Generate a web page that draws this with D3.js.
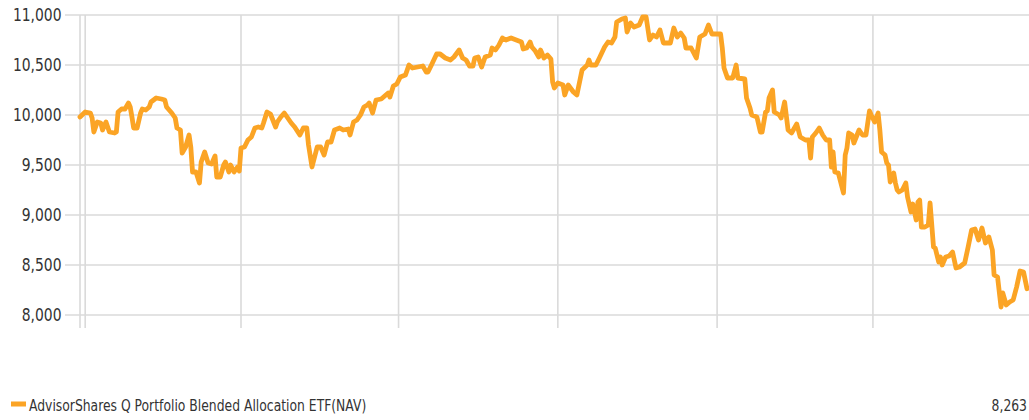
<!DOCTYPE html>
<html>
<head>
<meta charset="utf-8">
<script src="https://cdn.jsdelivr.net/npm/d3@7"></script>
<style>
  body { margin: 0; background: #fff; }
  svg text { font-family: "Liberation Sans Narrow", "Arial Narrow", "DejaVu Sans Condensed", sans-serif; fill: #333; }
</style>
</head>
<body>
<div id="chart"></div>
<script>
// NAV of a hypothetical 10,000 investment
const navSeries = [
  ["2020-12-29", 9980], ["2021-01-01", 10030], ["2021-01-04", 10020], ["2021-01-05", 9970],
  ["2021-01-06", 9830], ["2021-01-08", 9930], ["2021-01-10", 9920], ["2021-01-11", 9850],
  ["2021-01-13", 9930], ["2021-01-15", 9830], ["2021-01-18", 9820], ["2021-01-19", 9830],
  ["2021-01-20", 10030], ["2021-01-22", 10060], ["2021-01-24", 10060], ["2021-01-26", 10120],
  ["2021-01-27", 10080], ["2021-01-28", 9980], ["2021-01-29", 9870], ["2021-01-31", 9870],
  ["2021-02-02", 10020], ["2021-02-03", 10060], ["2021-02-05", 10050], ["2021-02-07", 10080],
  ["2021-02-08", 10130], ["2021-02-11", 10170], ["2021-02-14", 10160], ["2021-02-16", 10150],
  ["2021-02-17", 10080], ["2021-02-20", 10020], ["2021-02-22", 9970], ["2021-02-23", 9870],
  ["2021-02-25", 9850], ["2021-02-26", 9620], ["2021-02-28", 9680], ["2021-03-02", 9800],
  ["2021-03-03", 9680], ["2021-03-04", 9430], ["2021-03-06", 9430], ["2021-03-08", 9320],
  ["2021-03-09", 9530], ["2021-03-11", 9630], ["2021-03-13", 9520], ["2021-03-15", 9510],
  ["2021-03-17", 9590], ["2021-03-18", 9380], ["2021-03-20", 9380], ["2021-03-22", 9500],
  ["2021-03-23", 9530], ["2021-03-25", 9430], ["2021-03-26", 9500], ["2021-03-28", 9430],
  ["2021-03-30", 9480], ["2021-03-31", 9440], ["2021-04-01", 9670], ["2021-04-03", 9680],
  ["2021-04-05", 9750], ["2021-04-07", 9780], ["2021-04-09", 9870], ["2021-04-11", 9880],
  ["2021-04-13", 9870], ["2021-04-14", 9920], ["2021-04-16", 10030], ["2021-04-18", 10010],
  ["2021-04-21", 9880], ["2021-04-22", 9930], ["2021-04-24", 9980], ["2021-04-26", 10020],
  ["2021-04-28", 9970], ["2021-04-30", 9920], ["2021-05-02", 9880], ["2021-05-05", 9800],
  ["2021-05-07", 9870], ["2021-05-09", 9870], ["2021-05-10", 9700], ["2021-05-12", 9480],
  ["2021-05-15", 9680], ["2021-05-17", 9680], ["2021-05-19", 9600], ["2021-05-21", 9730],
  ["2021-05-23", 9730], ["2021-05-25", 9850], ["2021-05-28", 9870], ["2021-05-30", 9850],
  ["2021-06-02", 9860], ["2021-06-03", 9800], ["2021-06-05", 9930], ["2021-06-07", 9950],
  ["2021-06-09", 10000], ["2021-06-11", 10080], ["2021-06-13", 10100], ["2021-06-14", 10120],
  ["2021-06-16", 10020], ["2021-06-18", 10150], ["2021-06-21", 10160], ["2021-06-23", 10190],
  ["2021-06-25", 10220], ["2021-06-26", 10180], ["2021-06-28", 10290], ["2021-06-30", 10310],
  ["2021-07-02", 10380], ["2021-07-05", 10400], ["2021-07-07", 10500], ["2021-07-09", 10470],
  ["2021-07-12", 10480], ["2021-07-15", 10490], ["2021-07-17", 10430], ["2021-07-18", 10430],
  ["2021-07-20", 10500], ["2021-07-23", 10610], ["2021-07-25", 10610], ["2021-07-28", 10570],
  ["2021-07-31", 10550], ["2021-08-02", 10580], ["2021-08-05", 10650], ["2021-08-07", 10570],
  ["2021-08-09", 10550], ["2021-08-11", 10490], ["2021-08-13", 10490], ["2021-08-14", 10570],
  ["2021-08-16", 10580], ["2021-08-18", 10480], ["2021-08-20", 10580], ["2021-08-23", 10600],
  ["2021-08-24", 10670], ["2021-08-26", 10650], ["2021-08-28", 10700], ["2021-08-30", 10770],
  ["2021-09-01", 10750], ["2021-09-04", 10770], ["2021-09-07", 10750], ["2021-09-10", 10730],
  ["2021-09-11", 10660], ["2021-09-13", 10670], ["2021-09-15", 10730], ["2021-09-16", 10680],
  ["2021-09-18", 10640], ["2021-09-20", 10580], ["2021-09-21", 10650], ["2021-09-23", 10570],
  ["2021-09-25", 10600], ["2021-09-27", 10560], ["2021-09-28", 10330], ["2021-09-29", 10270],
  ["2021-10-01", 10320], ["2021-10-04", 10300], ["2021-10-05", 10200], ["2021-10-07", 10300],
  ["2021-10-10", 10230], ["2021-10-12", 10200], ["2021-10-15", 10450], ["2021-10-18", 10500],
  ["2021-10-19", 10550], ["2021-10-20", 10500], ["2021-10-23", 10500], ["2021-10-25", 10570],
  ["2021-10-28", 10680], ["2021-10-30", 10730], ["2021-11-01", 10720], ["2021-11-03", 10780],
  ["2021-11-04", 10930], ["2021-11-07", 10960], ["2021-11-09", 10970], ["2021-11-10", 10830],
  ["2021-11-12", 10920], ["2021-11-14", 10880], ["2021-11-17", 10900], ["2021-11-19", 10980],
  ["2021-11-21", 10980], ["2021-11-23", 10750], ["2021-11-25", 10800], ["2021-11-27", 10780],
  ["2021-11-29", 10850], ["2021-12-01", 10720], ["2021-12-05", 10720], ["2021-12-07", 10870],
  ["2021-12-09", 10780], ["2021-12-11", 10820], ["2021-12-13", 10770], ["2021-12-14", 10670],
  ["2021-12-17", 10670], ["2021-12-20", 10570], ["2021-12-22", 10780], ["2021-12-25", 10810],
  ["2021-12-27", 10900], ["2021-12-29", 10810], ["2021-12-31", 10810], ["2022-01-03", 10810],
  ["2022-01-04", 10670], ["2022-01-05", 10470], ["2022-01-07", 10370], ["2022-01-10", 10370],
  ["2022-01-12", 10500], ["2022-01-13", 10370], ["2022-01-17", 10360], ["2022-01-18", 10170],
  ["2022-01-20", 10070], ["2022-01-21", 10000], ["2022-01-24", 9980], ["2022-01-26", 9830],
  ["2022-01-27", 9830], ["2022-01-29", 10030], ["2022-01-30", 10040], ["2022-01-31", 10170],
  ["2022-02-02", 10250], ["2022-02-03", 10030], ["2022-02-06", 10000], ["2022-02-07", 9970],
  ["2022-02-09", 10130], ["2022-02-11", 9850], ["2022-02-13", 9820], ["2022-02-16", 9910],
  ["2022-02-18", 9780], ["2022-02-21", 9750], ["2022-02-23", 9750], ["2022-02-24", 9570],
  ["2022-02-25", 9780], ["2022-02-27", 9820], ["2022-03-01", 9870], ["2022-03-03", 9800],
  ["2022-03-05", 9750], ["2022-03-07", 9750], ["2022-03-08", 9480], ["2022-03-09", 9630],
  ["2022-03-10", 9430], ["2022-03-12", 9420], ["2022-03-15", 9220], ["2022-03-16", 9600],
  ["2022-03-17", 9670], ["2022-03-18", 9820], ["2022-03-20", 9800], ["2022-03-21", 9720],
  ["2022-03-24", 9850], ["2022-03-26", 9800], ["2022-03-28", 9800], ["2022-03-30", 10040],
  ["2022-03-31", 10000], ["2022-04-02", 9930], ["2022-04-04", 10020], ["2022-04-05", 9850],
  ["2022-04-06", 9630], ["2022-04-08", 9600], ["2022-04-09", 9520], ["2022-04-10", 9500],
  ["2022-04-11", 9330], ["2022-04-13", 9420], ["2022-04-14", 9320], ["2022-04-15", 9250],
  ["2022-04-16", 9230], ["2022-04-18", 9250], ["2022-04-20", 9320], ["2022-04-21", 9180],
  ["2022-04-23", 9030], ["2022-04-24", 9110], ["2022-04-26", 8950], ["2022-04-27", 9130],
  ["2022-04-28", 9150], ["2022-04-29", 8880], ["2022-05-01", 8880], ["2022-05-03", 8900],
  ["2022-05-04", 9120], ["2022-05-06", 8680], ["2022-05-07", 8670], ["2022-05-09", 8530],
  ["2022-05-10", 8580], ["2022-05-11", 8500], ["2022-05-13", 8580], ["2022-05-15", 8590],
  ["2022-05-17", 8630], ["2022-05-19", 8470], ["2022-05-21", 8480], ["2022-05-24", 8520],
  ["2022-05-26", 8680], ["2022-05-28", 8850], ["2022-05-30", 8860], ["2022-06-01", 8750],
  ["2022-06-03", 8870], ["2022-06-05", 8720], ["2022-06-07", 8780], ["2022-06-09", 8650],
  ["2022-06-10", 8400], ["2022-06-12", 8380], ["2022-06-14", 8080], ["2022-06-15", 8220],
  ["2022-06-17", 8100], ["2022-06-19", 8130], ["2022-06-21", 8150], ["2022-06-23", 8280],
  ["2022-06-25", 8440], ["2022-06-27", 8430], ["2022-06-29", 8263]
];

const yTicks = [8000, 8500, 9000, 9500, 10000, 10500, 11000];
const xGridDates = ["2020-12-29", "2021-01-01", "2021-04-01", "2021-07-01", "2021-10-01", "2022-01-01", "2022-04-01"];
const seriesName = "AdvisorShares Q Portfolio Blended Allocation ETF(NAV)";
const lastValue = 8263;

const parseDate = d3.timeParse("%Y-%m-%d");
const data = navSeries.map(([d, v]) => ({ date: parseDate(d), value: v }));

const width = 1029;
const height = 420;
const lineColor = "#fba425";
const narrow = 0.86; // squeeze text horizontally, no condensed font installed

const svg = d3.select("#chart")
  .append("svg")
  .attr("width", width)
  .attr("height", height);

const x = d3.scaleTime()
  .domain([parseDate("2020-12-29"), parseDate("2022-06-29")])
  .range([80, 1027]);

const y = d3.scaleLinear()
  .domain([8000, 11000])
  .range([315, 15]);

// horizontal grid + labels
const yAxis = svg.append("g")
  .attr("transform", "translate(65,0)")
  .call(d3.axisLeft(y).tickValues(yTicks).tickSize(0).tickPadding(4)
    .tickFormat(d3.format(",")));
yAxis.select(".domain").remove();
yAxis.selectAll("text")
  .style("font-size", "18px")
  .attr("fill", "#333")
  .attr("transform", `scale(${narrow},1)`);

svg.append("g")
  .selectAll("line")
  .data(yTicks)
  .enter()
  .append("line")
  .attr("x1", 65)
  .attr("x2", width)
  .attr("y1", (d) => y(d))
  .attr("y2", (d) => y(d))
  .attr("stroke", "#dadada")
  .attr("stroke-width", 1.6);

// vertical grid
svg.append("g")
  .selectAll("line")
  .data(xGridDates.map(parseDate))
  .enter()
  .append("line")
  .attr("x1", (d) => x(d))
  .attr("x2", (d) => x(d))
  .attr("y1", y(11000))
  .attr("y2", 328)
  .attr("stroke", "#dadada")
  .attr("stroke-width", 1.6);

// series line
const line = d3.line()
  .x((d) => x(d.date))
  .y((d) => y(d.value));

svg.append("path")
  .datum(data)
  .attr("d", line)
  .attr("fill", "none")
  .attr("stroke", lineColor)
  .attr("stroke-width", 4.8)
  .attr("stroke-linejoin", "round")
  .attr("stroke-linecap", "round");

// legend
svg.append("rect")
  .attr("x", 11)
  .attr("y", 401.5)
  .attr("width", 15)
  .attr("height", 5)
  .attr("fill", lineColor);

svg.append("text")
  .attr("transform", `translate(29,411) scale(${narrow},1)`)
  .style("font-size", "16px")
  .text(seriesName);

svg.append("text")
  .attr("transform", `translate(1027,411) scale(${narrow},1)`)
  .attr("text-anchor", "end")
  .style("font-size", "16px")
  .text(d3.format(",")(lastValue));
</script>
</body>
</html>
